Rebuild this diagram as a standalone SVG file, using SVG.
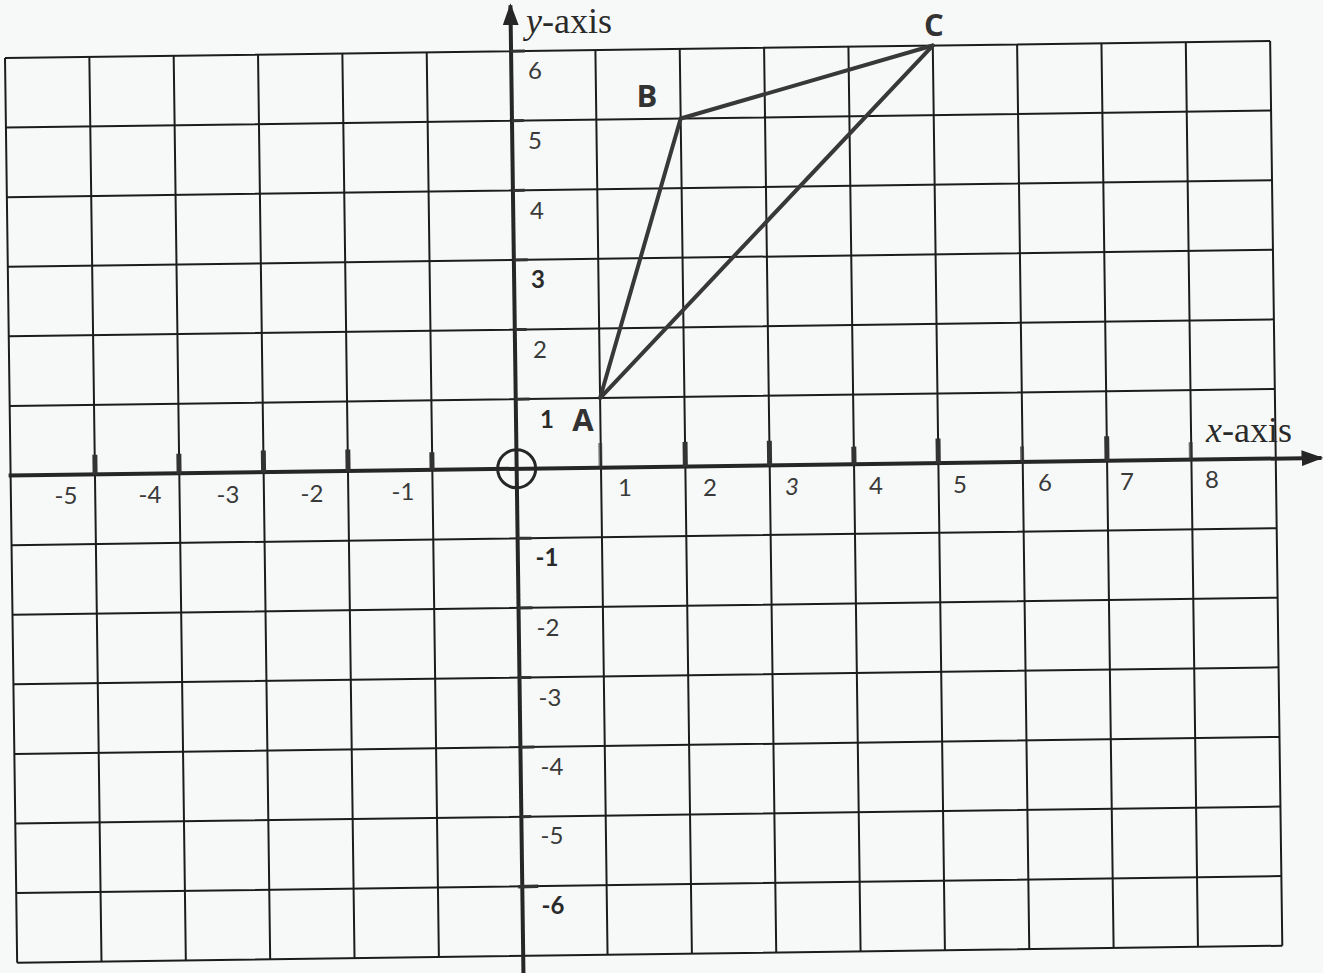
<svg xmlns="http://www.w3.org/2000/svg" width="1323" height="973" viewBox="0 0 1323 973">
<style>
.bg{fill:#f6f9f7}
.g{stroke:#1c1c1c;stroke-width:2;fill:none}
.ax{stroke:#262626;stroke-width:4;fill:none}
.tk{fill:#333}
.tri{stroke:#383838;stroke-width:4;fill:none;stroke-linejoin:round;stroke-linecap:round}
.n{font-family:Lato,"Open Sans","Liberation Sans",sans-serif;font-size:24px;fill:#3a3a3a;text-anchor:middle}
.nb{font-family:Lato,"Open Sans","Liberation Sans",sans-serif;font-size:24px;font-weight:bold;fill:#2a2a2a;text-anchor:middle}
.pt{font-family:"Open Sans","Liberation Sans",sans-serif;font-size:31px;font-weight:bold;fill:#333;text-anchor:middle}
.axl{font-family:"Liberation Serif",serif;font-size:36px;fill:#2a2a2a}
</style>
<defs>
<marker id="arrB" markerWidth="22" markerHeight="16" refX="20" refY="8" orient="auto" markerUnits="userSpaceOnUse" viewBox="0 0 22 16">
<path d="M0,0 L22,8 L0,16 Z" fill="#262626"/>
</marker>
</defs>
<rect class="bg" x="0" y="0" width="1323" height="973"/>
<g transform="translate(5,58) rotate(-0.77)">
<g id="grid">
<path class="g" d="M0,0V904.8 M84.35,0V904.8 M168.7,0V904.8 M253.05,0V904.8 M337.4,0V904.8 M421.75,0V904.8 M590.45,0V904.8 M674.8,0V904.8 M759.15,0V904.8 M843.5,0V904.8 M927.85,0V904.8 M1012.2,0V904.8 M1096.55,0V904.8 M1180.9,0V904.8 M1265.25,0V904.8"/>
<path class="g" d="M0,0H1265.25 M0,69.6H1265.25 M0,139.2H1265.25 M0,208.8H1265.25 M0,278.4H1265.25 M0,348H1265.25 M0,487.2H1265.25 M0,556.8H1265.25 M0,626.4H1265.25 M0,696H1265.25 M0,765.6H1265.25 M0,835.2H1265.25 M0,904.8H1265.25"/>
</g>
<g id="axes">
<line id="x-axis" class="ax" x1="-2" y1="417.6" x2="1311" y2="417.6" marker-end="url(#arrB)"/>
<line id="y-axis" class="ax" x1="506.1" y1="925" x2="506.1" y2="-46" marker-end="url(#arrB)"/>
<circle id="origin" cx="506.1" cy="417.6" r="19" fill="none" stroke="#262626" stroke-width="3"/>
</g>
<g id="ticks">
<rect class="tk" x="82" y="398" width="5" height="20"/>
<rect class="tk" x="166" y="398" width="5" height="20"/>
<rect class="tk" x="250.5" y="396" width="5" height="22"/>
<rect class="tk" x="335" y="396" width="5" height="22"/>
<rect class="tk" x="419" y="400" width="5" height="18"/>
<rect class="tk" x="588" y="393" width="4" height="25" fill-opacity="0.6"/>
<rect class="tk" x="672.3" y="393" width="5" height="25"/>
<rect class="tk" x="756.6" y="393" width="5" height="25"/>
<rect class="tk" x="841" y="400" width="5" height="18"/>
<rect class="tk" x="925.3" y="393" width="5" height="25"/>
<rect class="tk" x="1009.7" y="402" width="4" height="16" fill-opacity="0.7"/>
<rect class="tk" x="1094" y="393" width="5" height="25"/>
<rect class="tk" x="1178.4" y="400" width="4" height="18" fill-opacity="0.7"/>
<rect class="tk" x="506" y="-1.5" width="14" height="3"/>
<rect class="tk" x="506" y="68" width="12" height="3"/>
<rect class="tk" x="506" y="137.7" width="12" height="3"/>
<rect class="tk" x="506" y="207.3" width="14" height="3"/>
<rect class="tk" x="506" y="276.9" width="12" height="3"/>
<rect class="tk" x="506" y="346.5" width="14" height="3"/>
<rect class="tk" x="506" y="485.7" width="14" height="3"/>
<rect class="tk" x="506" y="555.3" width="14" height="3"/>
<rect class="tk" x="506" y="624.9" width="12" height="3"/>
<rect class="tk" x="506" y="694.5" width="14" height="3"/>
<rect class="tk" x="506" y="764.1" width="10" height="3"/>
<rect class="tk" x="502" y="833.7" width="20" height="3.5"/>
</g>
<g id="connectors">
<line id="AB" class="tri" x1="590.45" y1="348" x2="674.8" y2="69.6"/>
<line id="BC" class="tri" x1="674.8" y1="69.6" x2="927.85" y2="0"/>
<line id="AC" class="tri" x1="590.45" y1="348" x2="927.85" y2="0"/>
</g>
</g>
<g id="x-labels">
<text class="n" x="66" y="504">-5</text>
<text class="n" x="150" y="503">-4</text>
<text class="n" x="228" y="503">-3</text>
<text class="n" x="312" y="502">-2</text>
<text class="n" x="403" y="500">-1</text>
<text class="n" x="625" y="496">1</text>
<text class="n" x="710" y="496">2</text>
<text class="n" x="792" y="495" font-style="italic">3</text>
<text class="n" x="876" y="494">4</text>
<text class="n" x="960" y="493">5</text>
<text class="n" x="1045" y="491">6</text>
<text class="n" x="1127" y="490">7</text>
<text class="n" x="1212" y="488">8</text>
</g>
<g id="y-labels">
<text class="n" x="535" y="79">6</text>
<text class="n" x="535" y="149">5</text>
<text class="n" x="537" y="219">4</text>
<text class="nb" x="538" y="288">3</text>
<text class="n" x="540" y="358">2</text>
<text class="nb" x="547" y="428">1</text>
<text class="nb" x="547" y="566">-1</text>
<text class="n" x="548" y="636">-2</text>
<text class="n" x="550" y="706">-3</text>
<text class="n" x="552" y="775">-4</text>
<text class="n" x="552" y="844">-5</text>
<text class="nb" x="553" y="914">-6</text>
</g>
<g id="node-A"><text class="pt" x="583" y="431">A</text></g>
<g id="node-B"><text class="pt" x="647" y="107">B</text></g>
<g id="node-C"><text class="pt" x="934" y="36">C</text></g>
<g id="axis-titles">
<text class="axl" x="526" y="33"><tspan font-style="italic">y</tspan>-axis</text>
<text class="axl" x="1206" y="442"><tspan font-style="italic">x</tspan>-axis</text>
</g>
</svg>
